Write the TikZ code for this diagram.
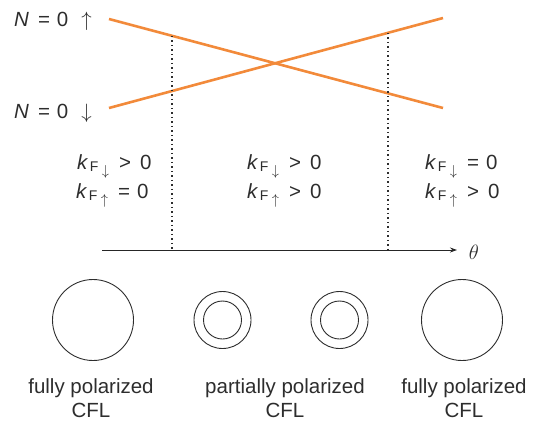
\documentclass[tikz,border=0pt]{standalone}
\usepackage{fontspec}
\setmainfont{Liberation Sans}
\usetikzlibrary{arrows.meta}
\definecolor{lineorange}{RGB}{242,138,58}
\definecolor{ink}{RGB}{45,45,45}
\newcommand{\kF}[1]{\textit{k}{\fontsize{14}{14}\selectfont\hspace{1.5pt}\raisebox{-0.3ex}{F}\hspace{3.5pt}\raisebox{-0.85ex}{$#1$}}}
\tikzset{
  lbl/.style={font=\fontsize{20.5}{24}\selectfont, text=ink, inner sep=0pt},
  band/.style={draw=lineorange, line width=2.6pt},
  guide/.style={draw=ink, line width=1.4pt, dash pattern=on 1.5pt off 3pt},
  axisline/.style={draw=black!85, line width=0.9pt, -{Stealth[length=7pt,width=5pt]}},
  fermi/.style={circle, draw=ink, line width=0.9pt, inner sep=0pt},
}
\begin{document}
\begin{tikzpicture}[x=1pt,y=-1pt]
\useasboundingbox (0,0) rectangle (537,424);
% orange levels
\coordinate (ua) at (109,19);
\coordinate (ub) at (443,108);
\coordinate (da) at (109,108);
\coordinate (db) at (443,18);
\draw[band] (ua) -- (ub);
\draw[band] (da) -- (db);
\node[lbl, anchor=base west] (nup) at (14,26) {\textit{N}\hspace{9pt}=\hspace{7pt}0\hspace{13pt}$\uparrow$};
\node[lbl, anchor=base west] (ndn) at (14,118) {\textit{N}\hspace{9pt}=\hspace{7pt}0\hspace{13pt}$\downarrow$};
% axis
\coordinate (ax0) at (102,250);
\coordinate (ax1) at (457,250);
\draw[axisline] (ax0) -- (ax1);
\node[lbl, font=\fontsize{21}{23}\selectfont] (th) at (474,252) {$\theta$};
% dotted guides
\coordinate (t1) at (172,35.8);
\coordinate (b1) at (172,250);
\coordinate (t2) at (388,32.8);
\coordinate (b2) at (388,250);
\draw[guide] (t1) -- (b1);
\draw[guide] (t2) -- (b2);
% k labels
\node[lbl, anchor=base west] (k1a) at (77,169) {\kF{\downarrow}\hspace{10pt}>\hspace{9pt}0};
\node[lbl, anchor=base west] (k1b) at (76,198) {\kF{\uparrow}\hspace{10pt}=\hspace{7pt}0};
\node[lbl, anchor=base west] (k2a) at (247,169) {\kF{\downarrow}\hspace{10pt}>\hspace{9pt}0};
\node[lbl, anchor=base west] (k2b) at (247,198) {\kF{\uparrow}\hspace{10pt}>\hspace{9pt}0};
\node[lbl, anchor=base west] (k3a) at (425,169) {\kF{\downarrow}\hspace{10pt}=\hspace{7pt}0};
\node[lbl, anchor=base west] (k3b) at (425,198) {\kF{\uparrow}\hspace{10pt}>\hspace{9pt}0};
% Fermi surfaces
\node[fermi, minimum size=81pt] (c1) at (93,320) {};
\node[fermi, minimum size=57pt] (c2o) at (222.5,320) {};
\node[fermi, minimum size=38pt] (c2i) at (222.5,320) {};
\node[fermi, minimum size=57pt] (c3o) at (339.5,320) {};
\node[fermi, minimum size=38pt] (c3i) at (339.5,320) {};
\node[fermi, minimum size=81pt] (c4) at (462,320) {};
% captions
\node[lbl, anchor=base] (f1a) at (91,393) {fully polarized};
\node[lbl, anchor=base] (f1b) at (91,417) {CFL};
\node[lbl, anchor=base] (f2a) at (285,393) {partially polarized};
\node[lbl, anchor=base] (f2b) at (285,417) {CFL};
\node[lbl, anchor=base] (f3a) at (464,393) {fully polarized};
\node[lbl, anchor=base] (f3b) at (464,417) {CFL};
\end{tikzpicture}
\end{document}
